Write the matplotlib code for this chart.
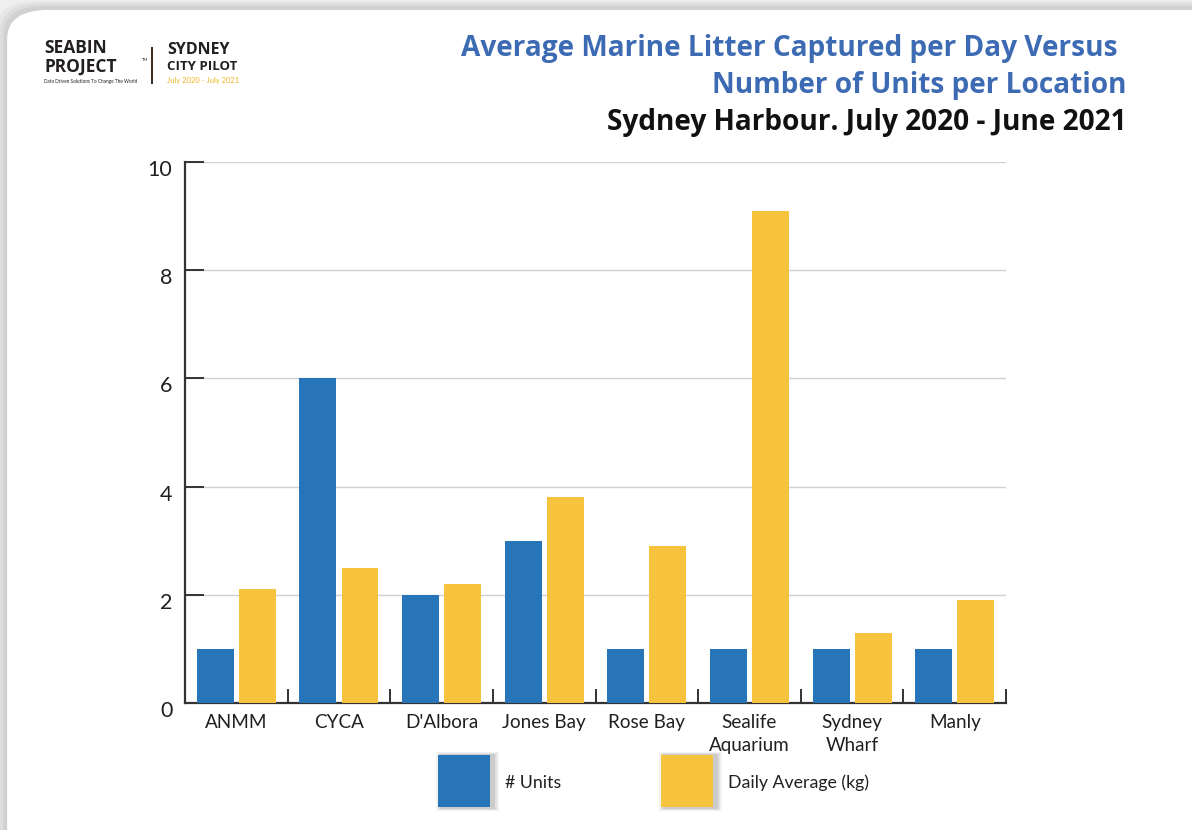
import matplotlib
matplotlib.use("Agg")
import matplotlib.pyplot as plt
import matplotlib.transforms as mtransforms
from matplotlib.patches import FancyBboxPatch, Rectangle
import numpy as np

locations = ["ANMM", "CYCA", "D'Albora", "Jones Bay", "Rose Bay",
             "Sealife\nAquarium", "Sydney\nWharf", "Manly"]
units = [1, 6, 2, 3, 1, 1, 1, 1]
daily_avg_kg = [2.1, 2.5, 2.2, 3.8, 2.9, 9.1, 1.3, 1.9]
y_ticks = [0, 2, 4, 6, 8, 10]

BLUE = "#2874B8"
YELLOW = "#F8C33C"
TITLE_BLUE = "#3D6BB3"
TEXT = "#231F20"

plt.rcParams["font.family"] = ["Lato", "DejaVu Sans"]

fig = plt.figure(figsize=(11.92, 8.30), dpi=100)
fig.patch.set_facecolor("#EFEFEF")

# white card with soft shadow
for i, a in enumerate([0.03, 0.04, 0.05]):
    d = (3 - i) * 0.003
    fig.patches.append(FancyBboxPatch((0.006 - d, -0.05 - d), 1.05 + 2 * d, 1.04 + 2 * d,
                                      boxstyle="round,pad=0,rounding_size=0.035",
                                      transform=fig.transFigure, facecolor="black",
                                      edgecolor="none", alpha=a, zorder=-3))
fig.patches.append(FancyBboxPatch((0.006, -0.05), 1.05, 1.038,
                                  boxstyle="round,pad=0,rounding_size=0.035",
                                  transform=fig.transFigure, facecolor="white",
                                  edgecolor="none", zorder=-2))

ax = fig.add_axes([0.1552, 0.153, 0.6888, 0.6518])
ax.set_facecolor("none")

x = np.arange(len(locations))
w = 0.36
ax.bar(x - 0.205, units, width=w, color=BLUE, zorder=3)
ax.bar(x + 0.205, daily_avg_kg, width=w, color=YELLOW, zorder=3)

ax.set_xlim(-0.5, len(locations) - 0.5)
ax.set_ylim(0, 10)
ax.set_yticks(y_ticks)
ax.set_yticklabels([str(t) for t in y_ticks], fontsize=15.5, color=TEXT)
ax.yaxis.grid(True, color="#D0D0D0", linewidth=1.0, zorder=0)
ax.tick_params(axis="y", direction="in", length=14, width=1.4, color="#333333", pad=9)
offset = mtransforms.ScaledTranslation(0, -6 / 100, fig.dpi_scale_trans)
for lab in ax.get_yticklabels():
    lab.set_transform(lab.get_transform() + offset)

# ticks sit between the location groups
ax.set_xticks(np.arange(-0.5, len(locations) + 0.5, 1.0))
ax.set_xticklabels([])
ax.set_xticks(x, minor=True)
ax.set_xticklabels(locations, minor=True, fontsize=13.6, color=TEXT, linespacing=1.4)
ax.tick_params(axis="x", which="major", direction="in", length=10, width=1.4, color="#333333")
ax.tick_params(axis="x", which="minor", length=0, pad=8)

for s in ["top", "right"]:
    ax.spines[s].set_visible(False)
for s in ["left", "bottom"]:
    ax.spines[s].set_color("#333333")
    ax.spines[s].set_linewidth(1.6)

# titles
title_font = dict(family=["Open Sans", "DejaVu Sans"], fontsize=20.2, fontweight="bold")
fig.text(0.938, 0.942, "Average Marine Litter Captured per Day Versus", ha="right", va="center",
         color=TITLE_BLUE, **title_font)
fig.text(0.945, 0.897, "Number of Units per Location", ha="right", va="center",
         color=TITLE_BLUE, **title_font)
fig.text(0.945, 0.853, "Sydney Harbour. July 2020 - June 2021", ha="right", va="center",
         color="#111111", **title_font)

# logo block
logo_font = dict(family=["Open Sans", "DejaVu Sans"], fontweight="bold")
fig.text(0.037, 0.942, "SEABIN", ha="left", va="center", fontsize=12.5,
         color=TEXT, **logo_font)
fig.text(0.037, 0.920, "PROJECT", ha="left", va="center", fontsize=12.5,
         color=TEXT, **logo_font)
fig.text(0.1195, 0.928, "TM", ha="left", va="center", fontsize=3, color=TEXT)
fig.text(0.037, 0.902, "Data Driven Solutions To Change The World", ha="left", va="center",
         fontsize=3.4, color=TEXT)
fig.lines.append(plt.Line2D([0.1275, 0.1275], [0.900, 0.942], transform=fig.transFigure,
                            color="#3A2A1E", linewidth=1.4))
fig.text(0.14, 0.940, "SYDNEY", ha="left", va="center", fontsize=11.5,
         color=TEXT, **logo_font)
fig.text(0.14, 0.920, "CITY PILOT", ha="left", va="center", fontsize=9.5,
         color=TEXT, **logo_font)
fig.text(0.14, 0.903, "July 2020 - July 2021", ha="left", va="center", fontsize=5.5,
         color="#F0B323")

# legend squares
for x0, color, label in [(0.3675, BLUE, "# Units"), (0.5545, YELLOW, "Daily Average (kg)")]:
    for k, a in enumerate([0.05, 0.07, 0.09]):
        s = (3 - k) * 0.0015
        fig.patches.append(Rectangle((x0 + 0.003 - s, 0.027 - s), 0.0436 + 2 * s, 0.0627 + 2 * s,
                                     transform=fig.transFigure, facecolor="black",
                                     edgecolor="none", alpha=a, zorder=1))
    fig.patches.append(Rectangle((x0, 0.0277), 0.0436, 0.0627, transform=fig.transFigure,
                                 facecolor=color, edgecolor="none", zorder=2))
    fig.text(x0 + 0.0565, 0.057, label, ha="left", va="center", fontsize=12.8, color=TEXT)

fig.savefig("out.png", dpi=100, facecolor=fig.get_facecolor())
